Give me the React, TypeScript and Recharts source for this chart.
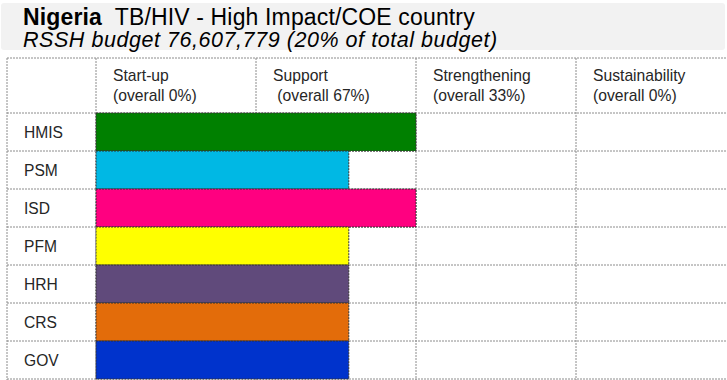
import React from 'react';
import { BarChart, Bar, XAxis, YAxis, CartesianGrid, Cell } from 'recharts';

const categories = ['HMIS', 'PSM', 'ISD', 'PFM', 'HRH', 'CRS', 'GOV'];
const stageValues = [2, 1.58, 2, 1.58, 1.58, 1.58, 1.58];
const barColors = ['#008000', '#00b8e4', '#ff0080', '#ffff00', '#604a7b', '#e36c0a', '#0033cc'];
const stageNames = ['Start-up', 'Support', 'Strengthening', 'Sustainability'];
const stageOverall = ['(overall 0%)', '\u00a0(overall 67%)', '(overall 33%)', '(overall 0%)'];
const stageTicks = [0, 1, 2, 3];
const stageDomain = [0, 4];
const countryName = 'Nigeria';
const countryInfo = 'TB/HIV - High Impact/COE country';
const budgetLine = 'RSSH budget 76,607,779 (20% of total budget)';

const data = categories.map((name, i) => ({ name, value: stageValues[i] }));

const FONT = '"Liberation Sans", Arial, Helvetica, sans-serif';

const HeaderTick = (props: any) => {
  const { x, payload } = props;
  const i = stageTicks.indexOf(payload.value);
  if (i < 0) return null;
  return (
    <g>
      <text x={x + 17} y={81} fontSize={15.7} fill="#262626" fontFamily={FONT}>
        {stageNames[i]}
      </text>
      <text x={x + 17} y={101} fontSize={15.7} fill="#262626" fontFamily={FONT}>
        {stageOverall[i]}
      </text>
    </g>
  );
};

const RowTick = (props: any) => {
  const { y, payload } = props;
  return (
    <text x={24} y={y} dy={5.5} fontSize={15.6} fill="#262626" fontFamily={FONT}>
      {payload.value}
    </text>
  );
};

const vGen = (p: any) => {
  const s = p.xAxis && p.xAxis.scale;
  const pts = stageTicks.map((t) =>
    typeof s === 'function' ? s(t) : p.offset.left + (t * p.offset.width) / 4
  );
  return [7, ...pts];
};

const hGen = (p: any) => {
  const s = p.yAxis && p.yAxis.scale;
  const top = p.offset.top;
  const h = p.offset.height;
  const n = categories.length;
  let pts: number[];
  if (typeof s === 'function' && typeof s.bandwidth === 'function') {
    pts = categories.map((c) => s(c));
    pts.push(pts[pts.length - 1] + s.bandwidth());
  } else {
    pts = categories.map((_, i) => top + (i * h) / n);
    pts.push(top + h);
  }
  return [58, ...pts];
};

export default function App() {
  return (
    <div
      style={{
        position: 'absolute',
        left: 0,
        top: 0,
        width: 727,
        height: 380,
        overflow: 'hidden',
        background: '#fff',
        fontFamily: FONT,
      }}
    >
      <div
        style={{
          position: 'absolute',
          left: 1,
          top: 3,
          width: 724,
          height: 47,
          background: '#f2f2f2',
          borderRadius: 3,
        }}
      />
      <div
        style={{
          position: 'absolute',
          left: 23,
          top: 6,
          fontSize: 23,
          lineHeight: '23px',
          letterSpacing: '0.15px',
          color: '#000',
          whiteSpace: 'nowrap',
        }}
      >
        <b>{countryName}</b>
        {'\u00a0 '}
        {countryInfo}
      </div>
      <div
        style={{
          position: 'absolute',
          left: 23,
          top: 29,
          fontSize: 21.5,
          lineHeight: '22px',
          letterSpacing: '0.55px',
          fontStyle: 'italic',
          color: '#000',
          whiteSpace: 'nowrap',
        }}
      >
        {budgetLine}
      </div>
      <div style={{ position: 'absolute', left: 0, top: 0 }}>
        <BarChart
          width={740}
          height={380}
          data={data}
          layout="vertical"
          barCategoryGap={0}
          margin={{ top: 58, right: 4, bottom: 1, left: 7 }}
        >
          <CartesianGrid
            x={7}
            y={58}
            width={733}
            height={322}
            stroke="#8c8c8c"
            strokeDasharray="2 1"
            fill="none"
            verticalCoordinatesGenerator={vGen}
            horizontalCoordinatesGenerator={hGen}
          />
          <XAxis
            type="number"
            orientation="top"
            domain={stageDomain}
            ticks={stageTicks}
            height={55}
            axisLine={false}
            tickLine={false}
            tick={<HeaderTick />}
            interval={0}
          />
          <YAxis
            type="category"
            dataKey="name"
            width={89}
            axisLine={false}
            tickLine={false}
            tick={<RowTick />}
            interval={0}
          />
          <Bar
            dataKey="value"
            isAnimationActive={false}
            stroke="#333"
            strokeDasharray="2 1"
            strokeWidth={1}
          >
            {data.map((d, i) => (
              <Cell key={d.name} fill={barColors[i]} />
            ))}
          </Bar>
        </BarChart>
      </div>
    </div>
  );
}
